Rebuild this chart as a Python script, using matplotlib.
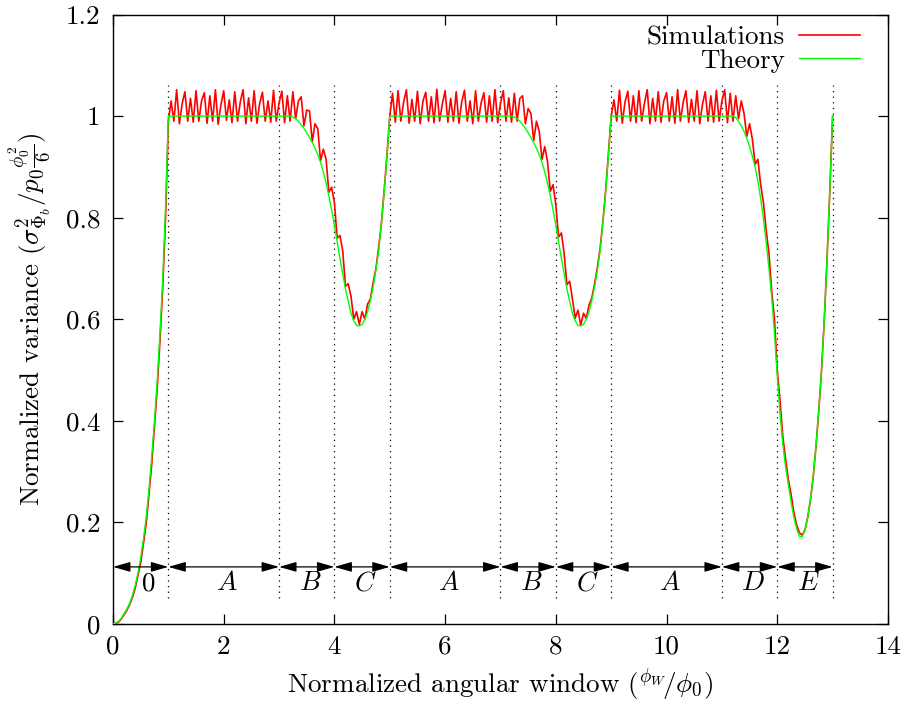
import numpy as np
import matplotlib
matplotlib.use("Agg")
import matplotlib.pyplot as plt

plt.rcParams['font.family'] = ['cmr10']
plt.rcParams['mathtext.fontset'] = 'cm'
plt.rcParams['axes.unicode_minus'] = False
plt.rcParams['axes.formatter.use_mathtext'] = True

# ---------------- data ----------------
STEP = 0.05

# Simulation values sampled every 0.05 from x = 0 to x = 13
sim_rise = [0.0, 0.001, 0.004, 0.01, 0.018, 0.027, 0.038, 0.052, 0.07, 0.095, 0.12,
            0.158, 0.198, 0.255, 0.315, 0.39, 0.465, 0.56, 0.665, 0.8, 0.99]
sim_A1 = [1.03, 0.99, 1.052, 0.985, 1.025, 1.048, 0.99,
          1.035, 0.988, 1.05, 0.99, 1.03, 1.046, 0.986,
          1.04, 0.99, 1.052, 0.984, 1.022, 1.05, 0.992,
          1.032, 0.987, 1.048, 0.99, 1.028, 1.052, 0.985,
          1.036, 0.99, 1.05, 0.986, 1.025, 1.047, 0.99,
          1.03, 0.988, 1.051, 0.99, 1.026, 1.049, 0.987,
          1.04, 0.99]
sim_BC1 = [1.048, 0.995, 1.03, 1.038, 0.981, 1.012, 1.01, 0.95, 0.985, 0.975,
           0.912, 0.935, 0.915, 0.85, 0.86, 0.83, 0.76, 0.765, 0.735, 0.665,
           0.67, 0.645, 0.6, 0.615, 0.59, 0.615, 0.6, 0.63, 0.64, 0.672,
           0.7, 0.742, 0.79, 0.855, 0.925, 1.0]
sim_A2 = [1.045, 0.988, 1.05, 0.99, 1.027, 1.052, 0.986,
          1.033, 0.99, 1.049, 0.985, 1.03, 1.047, 0.99,
          1.038, 0.987, 1.053, 0.99, 1.024, 1.05, 0.988,
          1.035, 0.99, 1.048, 0.986, 1.028, 1.051, 0.99,
          1.03, 0.985, 1.05, 0.99, 1.026, 1.046, 0.988,
          1.04, 0.99, 1.052, 0.987, 1.025, 1.05, 0.99,
          1.036, 0.988]
sim_BC2 = [1.045, 0.99, 1.035, 1.04, 0.985, 1.015, 1.005, 0.952, 0.99, 0.97,
           0.915, 0.94, 0.91, 0.852, 0.865, 0.825, 0.762, 0.77, 0.73, 0.668,
           0.675, 0.64, 0.602, 0.618, 0.588, 0.612, 0.602, 0.628, 0.642, 0.67,
           0.702, 0.74, 0.792, 0.853, 0.926, 1.0]
sim_A3 = [1.032, 0.99, 1.051, 0.986, 1.028, 1.049, 0.99,
          1.04, 0.987, 1.05, 0.99, 1.025, 1.052, 0.985,
          1.035, 0.99, 1.048, 0.988, 1.03, 1.046, 0.99,
          1.038, 0.986, 1.052, 0.99, 1.027, 1.05, 0.988,
          1.033, 0.99, 1.05, 0.985, 1.024, 1.048, 0.99,
          1.04, 0.988, 1.051, 0.99, 1.03, 1.052, 0.987,
          1.045, 0.99]
sim_DE = [1.04, 0.995, 1.03, 1.005, 0.96, 0.985, 0.955, 0.905, 0.915, 0.865,
          0.83, 0.775, 0.73, 0.655, 0.6, 0.5, 0.44, 0.37, 0.325, 0.285,
          0.255, 0.22, 0.195, 0.18, 0.175, 0.185, 0.21, 0.245, 0.29, 0.35,
          0.42, 0.5, 0.6, 0.72, 0.855, 1.0]

# Theory: curved pieces sampled every 0.05, plateaus at 1 between them
theory_rise = [0.0, 0.002, 0.005, 0.011, 0.02, 0.029, 0.04, 0.056, 0.075, 0.1, 0.13,
               0.167, 0.21, 0.265, 0.33, 0.4, 0.48, 0.575, 0.68, 0.82, 1.0]        # x 0 .. 1
theory_dip = [1.0, 0.998, 0.995, 0.99, 0.983, 0.976, 0.967, 0.958, 0.948, 0.937,
              0.924, 0.909, 0.89, 0.868, 0.843, 0.815, 0.785, 0.752, 0.72, 0.69,
              0.66, 0.635, 0.612, 0.597, 0.588, 0.587, 0.59, 0.6, 0.615, 0.637,
              0.664, 0.697, 0.735, 0.79, 0.852, 0.922, 1.0]                      # x 3.2 .. 5.0 and 7.2 .. 9.0
theory_DE = [1.0, 0.997, 0.99, 0.981, 0.97, 0.956, 0.94, 0.921, 0.9, 0.872,
             0.838, 0.798, 0.752, 0.7, 0.643, 0.572, 0.49, 0.415, 0.355, 0.31,
             0.275, 0.24, 0.21, 0.188, 0.173, 0.172, 0.185, 0.21, 0.245, 0.29,
             0.35, 0.42, 0.5, 0.6, 0.72, 0.855, 1.0]                              # x 11.2 .. 13.0
theory_starts = [0.0, 3.2, 7.2, 11.2]

region_bounds = [0, 1, 3, 4, 5, 7, 8, 9, 11, 12, 13]
region_labels = ['0', 'A', 'B', 'C', 'A', 'B', 'C', 'A', 'D', 'E']

x_ticks = [0, 2, 4, 6, 8, 10, 12, 14]
y_ticks = [0, 0.2, 0.4, 0.6, 0.8, 1.0, 1.2]

# ---------------- build series ----------------
sim_y = np.array(sim_rise + sim_A1 + sim_BC1 + sim_A2 + sim_BC2 + sim_A3 + sim_DE)
sim_x = np.arange(len(sim_y)) * STEP

pieces = [theory_rise, theory_dip, theory_dip, theory_DE]
th_x, th_y = [], []
for start, piece in zip(theory_starts, pieces):
    th_x.extend(start + np.arange(len(piece)) * STEP)
    th_y.extend(piece)
th_x = np.array(th_x)
th_y = np.array(th_y)

# ---------------- figure ----------------
fig = plt.figure(figsize=(9.06, 7.06), dpi=100)
ax = fig.add_axes([0.1247, 0.1161, 0.8554, 0.8633])

FS = 19.5
l_sim, = ax.plot(sim_x, sim_y, color='#ff0000', lw=1.2, zorder=3)
l_th, = ax.plot(th_x, th_y, color='#00ff00', lw=1.0, zorder=4)

# region separators
ax.vlines(region_bounds[1:], 0.052, 1.062, colors='black', lw=0.9,
          linestyles=[(0, (1, 3.5))], zorder=2)

# double arrows and labels
ya = 0.1125
for i, lab in enumerate(region_labels):
    b0, b1 = region_bounds[i], region_bounds[i + 1]
    ax.annotate('', xy=(b1, ya), xytext=(b0, ya),
                arrowprops=dict(arrowstyle='<|-|>,head_length=0.7,head_width=0.2',
                                mutation_scale=15, color='black', lw=0.9,
                                shrinkA=0, shrinkB=0), zorder=5)
    off = 0.13 if lab == '0' else 0.06
    ax.text((b0 + b1) / 2 + off, 0.08, '$' + lab + '$', ha='center', va='center',
            fontsize=FS)

ax.set_xlim(0, 14)
ax.set_ylim(0, 1.2)
ax.set_xticks(x_ticks)
ax.set_yticks(y_ticks)
ax.set_xticklabels([f'{v:g}' for v in x_ticks])
ax.set_yticklabels([f'{v:g}' for v in y_ticks])
ax.tick_params(direction='in', length=7, width=0.9, top=True, right=True,
               labelsize=FS)
ax.tick_params(axis='x', pad=8)
ax.tick_params(axis='y', pad=9)
for s in ax.spines.values():
    s.set_linewidth(1.0)

ax.set_xlabel(r'Normalized angular window $({}^{\phi_W}\!/{\phi_0})$', fontsize=FS)
ax.set_ylabel(r'Normalized variance $(\sigma^2_{\Phi_b}/p_0\frac{\phi_0^2}{6})$', fontsize=FS)
ax.xaxis.set_label_coords(0.5, -0.07)
ax.yaxis.set_label_coords(-0.078, 0.5)

common = dict(frameon=False, markerfirst=False, handlelength=2.27, handletextpad=0.5,
              borderpad=0, borderaxespad=0, fontsize=FS, loc='center right')
leg1 = ax.legend([l_sim], ['Simulations'], bbox_to_anchor=(0.9639, 0.963), **common)
ax.add_artist(leg1)
leg2 = ax.legend([l_th], ['Theory'], bbox_to_anchor=(0.9639, 0.924), **common)

fig.savefig('out.png', dpi=100)
